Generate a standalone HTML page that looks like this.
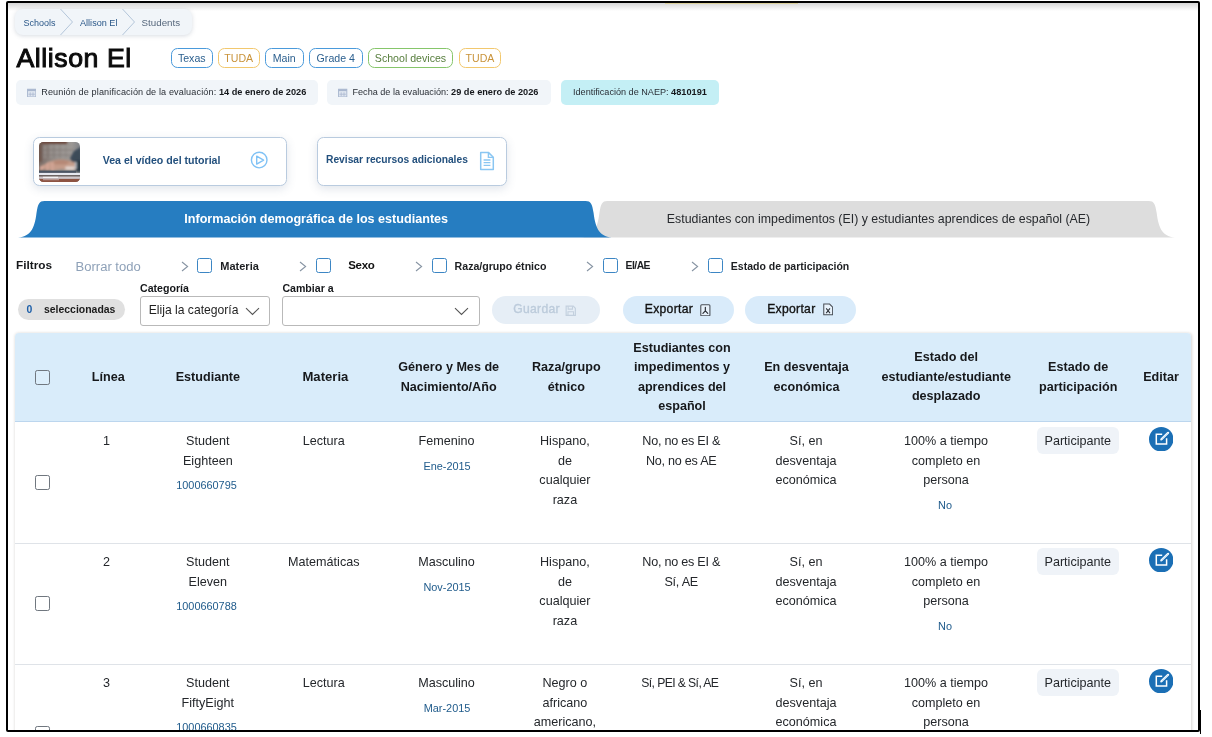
<!DOCTYPE html>
<html lang="es">
<head>
<meta charset="utf-8">
<title>Allison El - Students</title>
<style>
*{box-sizing:border-box;margin:0;padding:0}
html,body{width:1212px;height:737px;overflow:hidden;background:#fff}
body{font-family:"Liberation Sans",sans-serif;color:#212529;position:relative}
.abs{position:absolute}
.t{position:absolute;white-space:nowrap;line-height:1}
/* outer frame */
#frame{position:absolute;left:6px;top:1px;width:1194px;height:731px;border:2px solid #000;border-radius:2px;overflow:hidden;background:#fff}
#topshade{position:absolute;left:0;top:0;width:100%;height:7.5px;background:linear-gradient(#d6d6d6,#fff)}
#stage{position:absolute;left:-8px;top:-3px;width:1212px;height:737px}
/* breadcrumb */
#crumb{left:15px;top:9px;width:177px;height:26px;background:#f1f5f9;border-radius:8px;box-shadow:0 1px 4px rgba(100,116,139,.25)}
.crumbtx{font-size:9.3px;color:#2a5788;top:18.5px}
/* title */
#title{left:16.5px;top:44.8px;font-size:26.7px;font-weight:normal;color:#0b0b0b;-webkit-text-stroke:1px #0b0b0b;letter-spacing:0.55px}
.tag{position:absolute;top:47.8px;height:20.5px;border:1.4px solid #4a9adb;border-radius:6.5px;font-size:10.6px;line-height:19.6px;text-align:center;color:#2b5f8e;background:#fff;white-space:nowrap}
.tag.y{border-color:#f2c86e;color:#c9933a}
.tag.g{border-color:#86c66a;color:#567d3c}
.info{position:absolute;top:80.4px;height:24.4px;background:#f1f5f9;border-radius:5px;font-size:9.1px;line-height:24.6px;color:#2a2f36;white-space:nowrap}
.info b{font-weight:bold;color:#15181c;font-size:9.2px}
/* cards */
.card{position:absolute;top:137px;height:49px;border:1px solid #b9cbdf;border-radius:6.5px;background:#fff;box-shadow:0 3px 10px rgba(71,96,130,.16)}
.cardtx{font-size:10.75px;font-weight:bold;color:#23507d}
/* filters */
.fl{font-size:11px;font-weight:bold;color:#1d1f22}
.cb{position:absolute;width:15px;height:15px;border:1.5px solid #3c86c4;border-radius:2.5px;background:#fff;top:258px}
.chev{position:absolute}
.lbl{font-size:10.6px;font-weight:bold;color:#15171a}
.sel{position:absolute;top:296px;height:29.5px;border:1px solid #b9b9b9;border-radius:3px;background:#fff}
.pillbtn{position:absolute;top:296px;height:28px;border-radius:14px;background:#d9ebfa}
/* table */
#thead{left:15.3px;top:333px;width:1175.4px;height:89px;background:#d9ecfa;border-radius:4px 4px 0 0;border-bottom:1px solid #bcd6ee}
.th{position:absolute;font-size:12.6px;font-weight:bold;color:#16181b;text-align:center;line-height:19.5px;white-space:nowrap;transform:translateX(-50%)}
.td{position:absolute;font-size:12.6px;color:#24272b;text-align:center;line-height:19.7px;white-space:nowrap;transform:translateX(-50%)}
.sm{position:absolute;font-size:10.9px;color:#215c8c;white-space:nowrap;transform:translateX(-50%);line-height:1}
.rowline{position:absolute;left:15.3px;width:1175.4px;height:1px;background:#dfe3e8}
.gcb{position:absolute;left:35px;width:15px;height:15px;border:1.15px solid #70777f;border-radius:2.3px;background:#fff}
.badge{position:absolute;left:1036.5px;width:82.5px;height:27px;border-radius:6px;background:#eff3f8;font-size:12.6px;color:#24272b;text-align:center;line-height:28.2px}
.edit{position:absolute;left:1148.5px;width:24.5px;height:24.5px}
</style>
</head>
<body>
<div id="frame"><div id="topshade"></div><div id="stage">

<div class="abs" style="left:665px;top:3px;width:133px;height:1.2px;background:#d9cc8a;opacity:.8"></div>
<!-- breadcrumb -->
<div class="abs" id="crumb"></div>
<span class="t crumbtx" style="left:23.5px;font-size:9px">Schools</span>
<svg class="abs" style="left:58px;top:9px" width="18" height="26" viewBox="0 0 18 26"><path d="M2.5 0 L14.5 13 L2.5 26" fill="none" stroke="#b4c6da" stroke-width="1"/></svg>
<span class="t crumbtx" style="left:80px;font-size:9.1px">Allison El</span>
<svg class="abs" style="left:120px;top:9px" width="18" height="26" viewBox="0 0 18 26"><path d="M2.5 0 L14.5 13 L2.5 26" fill="none" stroke="#b4c6da" stroke-width="1"/></svg>
<span class="t crumbtx" style="left:141.6px;top:17.7px;font-size:9.75px;color:#56677c">Students</span>

<!-- title + tags -->
<span class="t" id="title">Allison El</span>
<div class="tag" style="left:170.5px;width:42.5px">Texas</div>
<div class="tag y" style="left:217.5px;width:42.5px">TUDA</div>
<div class="tag" style="left:265px;width:38.5px">Main</div>
<div class="tag" style="left:309px;width:53.5px">Grade 4</div>
<div class="tag g" style="left:368px;width:85px">School devices</div>
<div class="tag y" style="left:459px;width:42px">TUDA</div>

<!-- info bars -->
<div class="info" style="left:15.5px;width:302px;padding-left:25.7px"><span style="letter-spacing:.125px">Reunión de planificación de la evaluación: </span><b>14 de enero de 2026</b></div>
<div class="info" style="left:327px;width:223.5px;padding-left:25.5px">Fecha de la evaluación: <b>29 de enero de 2026</b></div>
<div class="info" style="left:561px;width:158px;padding-left:12px;background:#c4eff5">Identificación de NAEP: <b>4810191</b></div>

<!-- calendar icons -->
<svg class="abs" style="left:26.8px;top:87.5px" width="9.4" height="9.6" viewBox="0 0 10 10"><rect x="0.6" y="1.2" width="8.8" height="8.2" fill="#dfe6f0" stroke="#a9b7cf" stroke-width="1"/><rect x="0.6" y="1.2" width="8.8" height="2" fill="#a9b7cf"/><path d="M3.4 4.5V8.5M6.4 4.5V8.5M1.5 6.5H8.5" stroke="#a9b7cf" stroke-width=".8"/></svg>
<svg class="abs" style="left:338.3px;top:87.5px" width="9.4" height="9.6" viewBox="0 0 10 10"><rect x="0.6" y="1.2" width="8.8" height="8.2" fill="#dfe6f0" stroke="#a9b7cf" stroke-width="1"/><rect x="0.6" y="1.2" width="8.8" height="2" fill="#a9b7cf"/><path d="M3.4 4.5V8.5M6.4 4.5V8.5M1.5 6.5H8.5" stroke="#a9b7cf" stroke-width=".8"/></svg>

<!-- cards -->
<div class="card" style="left:33px;width:254.3px"></div>
<svg class="abs" style="left:39px;top:142px" width="41" height="40" viewBox="0 0 41 40">
 <defs>
  <clipPath id="tc"><rect width="41" height="40" rx="4.5"/></clipPath>
  <linearGradient id="tg" x1="0" y1="0" x2="1" y2="0"><stop offset="0" stop-color="#7b6c66"/><stop offset=".35" stop-color="#8f8985"/><stop offset=".8" stop-color="#9b9794"/><stop offset="1" stop-color="#7f8287"/></linearGradient>
  <filter id="bl" x="-20%" y="-20%" width="140%" height="140%"><feGaussianBlur stdDeviation="1"/></filter>
  <filter id="bl2" x="-20%" y="-20%" width="140%" height="140%"><feGaussianBlur stdDeviation=".45"/></filter>
 </defs>
 <g clip-path="url(#tc)">
  <rect width="41" height="40" fill="url(#tg)"/>
  <g filter="url(#bl)">
   <rect x="-2" y="-3" width="30" height="5" fill="#6a463c"/>
   <rect x="-2" y="0" width="5" height="20" fill="#6f5850"/>
   <path d="M6 4V16M12 3V16M18 3V16M24 4V16M30 5V14" stroke="#a6a19e" stroke-width="2.2" opacity=".55"/>
   <path d="M2 8H34M2 13H32" stroke="#77706c" stroke-width="1.4" opacity=".5"/>
   <path d="M42 5 L35 9 L31 16 L33 21 L37 22 L37 30 L43 30 Z" fill="#3c4b59"/>
   <rect x="36.5" y="18.5" width="5.5" height="10.5" fill="#2b3743"/>
   <rect x="36" y="20" width="1.6" height="7" fill="#b9c2cb"/>
   <path d="M0.5 25 C3 23 6 22.5 8 21 C10 19.5 14 18.4 19 17.6 C25 16.8 31 18.5 36 20.5 L36 27.5 C32 28.6 27 28.2 23 27 L15 28.6 L13 28.8 L10 27.5 L8 28.6 L5 27 L1 28.6 Z" fill="#c59c8a"/>
   <path d="M7 21.5 L9.5 20 L10 28 L7.5 28.5 Z M12 21 L14.5 20.5 L14.5 29 L12.5 29 Z M1 24.5 L4.5 23.5 L5 27.5 L1 28.5 Z" fill="#d3a596"/>
   <path d="M14 19.5 C19 17.6 26 17.6 31 19.6 L27 22.5 L16 22.5 Z" fill="#b58876"/>
   <rect x="26.5" y="24.5" width="9" height="3.2" fill="#e3d6d0"/>
  </g>
  <g filter="url(#bl2)">
   <rect x="-1" y="28.6" width="38" height="2.4" fill="#4b5563"/>
   <rect x="-1" y="30.9" width="43" height="2.5" fill="#e6e8ef"/>
   <rect x="-1" y="33.3" width="43" height="1.3" fill="#514442"/>
   <rect x="-1" y="34.5" width="43" height="2.4" fill="#cfc8cc"/>
   <rect x="4" y="34.8" width="15" height="1.1" fill="#f3f3f6"/>
   <rect x="-1" y="36.9" width="43" height="4" fill="#8d5243"/>
   <rect x="4" y="37.2" width="16" height="1" fill="#bfa5a0"/>
  </g>
 </g>
</svg>
<span class="t cardtx" id="c1t" style="left:102.7px;top:155px;font-size:10.6px">Vea el vídeo del tutorial</span>
<svg class="abs" style="left:250px;top:151.1px" width="18.4" height="18.4" viewBox="0 0 18.4 18.4"><circle cx="9.2" cy="9.1" r="7.8" fill="none" stroke="#80c2f5" stroke-width="1.4"/><path d="M6.7 5.1 L13.6 9.1 L6.7 13.1 Z" fill="none" stroke="#80c2f5" stroke-width="1.4" stroke-linejoin="round"/></svg>
<div class="card" style="left:317.2px;width:190px"></div>
<span class="t cardtx" id="c2t" style="left:326px;top:155px;font-size:10.25px">Revisar recursos adicionales</span>
<svg class="abs" style="left:479px;top:150.5px" width="16" height="20" viewBox="0 0 16 20"><path d="M1.7 1.6 H9.6 L14.3 6.3 V18.5 H1.7 Z" fill="#fff" stroke="#8ac6f2" stroke-width="1.5" stroke-linejoin="round"/><path d="M9.4 1.8 V6.4 H14.2" fill="none" stroke="#8ac6f2" stroke-width="1.4"/><path d="M4.6 9 H11.4 M4.6 11.7 H11.4 M4.6 14.4 H11.4" stroke="#8ac6f2" stroke-width="1.3"/></svg>

<!-- tabs -->
<svg class="abs" style="left:0;top:195px" width="1212" height="48" viewBox="0 195 1212 48">
 <path d="M578.4 237.6 C593.4 237.6 597.4 229 599.4 213 C600.9 204 601.9 201 607.4 201 H1148.7 C1154.2 201 1155.2 204 1156.7 213 C1158.7 229 1162.7 237.6 1177.7 237.6 Z" fill="#dddddd"/>
 <path d="M15.5 237.6 C30.5 237.6 34.5 229 36.5 213 C38 204 39 201 44.5 201 H585.6 C591.1 201 592.1 204 593.6 213 C595.6 229 599.6 237.6 614.6 237.6 Z" fill="#267dc1"/>
</svg>
<span class="t" id="tab1" style="left:316.2px;top:212.5px;font-size:12.6px;font-weight:bold;color:#fff;transform:translateX(-50%)">Información demográfica de los estudiantes</span>
<span class="t" id="tab2" style="left:878.5px;top:212.5px;font-size:12.35px;color:#26292d;transform:translateX(-50%)">Estudiantes con impedimentos (EI) y estudiantes aprendices de español (AE)</span>

<!-- filters -->
<span class="t" id="filtros" style="left:16px;top:260px;font-size:11.8px;font-weight:bold;color:#15171a">Filtros</span>
<span class="t" id="borrar" style="left:75.5px;top:259.5px;font-size:13.05px;color:#8ea1b8">Borrar todo</span>
<svg class="chev" style="left:180.5px;top:260.5px" width="8" height="11" viewBox="0 0 8 11"><path d="M1 1 L6.6 5.5 L1 10" fill="none" stroke="#8794a3" stroke-width="1.1"/></svg>
<div class="cb" style="left:197.3px"></div>
<span class="t fl" id="f1" style="left:220.3px;top:260.5px">Materia</span>
<svg class="chev" style="left:299px;top:260.5px" width="8" height="11" viewBox="0 0 8 11"><path d="M1 1 L6.6 5.5 L1 10" fill="none" stroke="#8794a3" stroke-width="1.1"/></svg>
<div class="cb" style="left:315.8px"></div>
<span class="t" id="f2" style="left:348.2px;top:260px;font-size:11.5px;font-weight:bold;color:#111;letter-spacing:-.3px">Sexo</span>
<svg class="chev" style="left:415.3px;top:260.5px" width="8" height="11" viewBox="0 0 8 11"><path d="M1 1 L6.6 5.5 L1 10" fill="none" stroke="#8794a3" stroke-width="1.1"/></svg>
<div class="cb" style="left:432.2px"></div>
<span class="t fl" id="f3" style="left:454.6px;top:260.5px;font-size:10.6px">Raza/grupo étnico</span>
<svg class="chev" style="left:586.2px;top:260.5px" width="8" height="11" viewBox="0 0 8 11"><path d="M1 1 L6.6 5.5 L1 10" fill="none" stroke="#8794a3" stroke-width="1.1"/></svg>
<div class="cb" style="left:603.3px"></div>
<span class="t fl" id="f4" style="left:625.6px;top:260.5px;font-size:10.4px;letter-spacing:-.55px">EI/AE</span>
<svg class="chev" style="left:691.3px;top:260.5px" width="8" height="11" viewBox="0 0 8 11"><path d="M1 1 L6.6 5.5 L1 10" fill="none" stroke="#8794a3" stroke-width="1.1"/></svg>
<div class="cb" style="left:707.7px"></div>
<span class="t fl" id="f5" style="left:730.8px;top:260.5px;font-size:10.5px">Estado de participación</span>

<span class="t lbl" id="lcat" style="left:140px;top:283px">Categoría</span>
<span class="t lbl" id="lcam" style="left:282.4px;top:283px">Cambiar a</span>

<div class="abs" style="left:18px;top:299px;width:106.5px;height:20.5px;border-radius:10.5px;background:#e0e0e0"></div>
<span class="t" id="selc0" style="left:26.5px;top:304.7px;font-size:10.45px;font-weight:bold;color:#1d5fa8">0</span>
<span class="t" id="selc" style="left:44px;top:304.7px;font-size:10.45px;font-weight:bold;color:#1b1b1b">seleccionadas</span>

<div class="sel" style="left:140px;width:130px"></div>
<span class="t" id="elija" style="left:148.7px;top:304px;font-size:12.15px;color:#1f1f1f">Elija la categoría</span>
<svg class="abs" style="left:244.5px;top:306.5px" width="15" height="9" viewBox="0 0 15 9"><path d="M1 1.2 L7.5 7.4 L14 1.2" fill="none" stroke="#555" stroke-width="1.1"/></svg>
<div class="sel" style="left:282.4px;width:197.6px"></div>
<svg class="abs" style="left:454.4px;top:306.5px" width="15" height="9" viewBox="0 0 15 9"><path d="M1 1.2 L7.5 7.4 L14 1.2" fill="none" stroke="#555" stroke-width="1.1"/></svg>

<div class="pillbtn" style="left:491.5px;width:108.5px;background:#e6eef6"></div>
<span class="t" id="guardar" style="left:513.2px;top:303px;font-size:12.15px;color:#bccbdb;-webkit-text-stroke:.35px #bccbdb;letter-spacing:.3px">Guardar</span>
<svg class="abs" style="left:565.2px;top:304.5px" width="11.5" height="11.5" viewBox="0 0 12 12"><path d="M1.2 1.2 H8.6 L10.8 3.4 V10.8 H1.2 Z" fill="none" stroke="#c3d0de" stroke-width="1.2"/><path d="M3.3 1.4 V4.3 H7.8 V1.4 M3.1 10.6 V7 H8.9 V10.6" fill="none" stroke="#c3d0de" stroke-width="1.1"/></svg>

<div class="pillbtn" style="left:623px;width:111.2px"></div>
<span class="t" id="exp1" style="left:644.8px;top:303px;font-size:12.15px;color:#121212;-webkit-text-stroke:.35px #121212;letter-spacing:.3px">Exportar</span>
<svg class="abs" style="left:700px;top:303.5px" width="10.7" height="12.7" viewBox="0 0 11 13"><rect x=".8" y=".8" width="9.4" height="11.4" rx="1" fill="#e8f2fb" stroke="#4a4f57" stroke-width="1.1"/><path d="M5.5 3.4 V7 M5.5 7 L3 9.6 M5.5 7 L8 9.6" stroke="#2b2f36" stroke-width="1.2" fill="none" stroke-linecap="round"/></svg>
<div class="pillbtn" style="left:745.3px;width:111px"></div>
<span class="t" id="exp2" style="left:767.2px;top:303px;font-size:12.15px;color:#121212;-webkit-text-stroke:.35px #121212;letter-spacing:.3px">Exportar</span>
<svg class="abs" style="left:822.7px;top:303.4px" width="10.4" height="12.8" viewBox="0 0 11 13"><path d="M.8 .8 H7 L10.2 4 V12.2 H.8 Z" fill="#e8f2fb" stroke="#4a4f57" stroke-width="1.1"/><path d="M3.4 5.4 L7.4 10.4 M7.4 5.4 L3.4 10.4" stroke="#2b2f36" stroke-width="1.1"/></svg>

<!-- table -->
<div class="abs" style="left:15.3px;top:333px;width:1175.4px;height:420px;border-radius:4px;background:#fff;box-shadow:0.6px 0.4px 3px rgba(60,50,40,.2)"></div>
<div class="abs" id="thead"></div>
<div class="gcb" style="top:369.8px;background:#dceefb"></div>
<div class="th" style="left:108.3px;top:367.8px">Línea</div>
<div class="th" style="left:207.9px;top:367.8px">Estudiante</div>
<div class="th" style="left:325.4px;top:367.2px;font-size:13.1px">Materia</div>
<div class="th" style="left:448.7px;top:358.05px">Género y Mes de<br>Nacimiento/Año</div>
<div class="th" style="left:566.3px;top:358.05px">Raza/grupo<br>étnico</div>
<div class="th" style="left:682px;top:338.55px">Estudiantes con<br>impedimentos y<br>aprendices del<br>español</div>
<div class="th" style="left:806.5px;top:358.05px">En desventaja<br>económica</div>
<div class="th" style="left:946.2px;top:348.3px">Estado del<br>estudiante/estudiante<br>desplazado</div>
<div class="th" style="left:1078.2px;top:358.05px">Estado de<br>participación</div>
<div class="th" style="left:1161px;top:367.8px">Editar</div>
<div class="gcb" style="top:474.5px"></div>
<div class="td" style="left:106.5px;top:431.8px">1</div>
<div class="td" style="left:207.8px;top:431.8px">Student<br>Eighteen</div>
<div class="sm" style="left:206.5px;top:480.3px">1000660795</div>
<div class="td" style="left:323.8px;top:431.8px">Lectura</div>
<div class="td" style="left:446.5px;top:431.8px">Femenino</div>
<div class="sm" style="left:447px;top:461px">Ene-2015</div>
<div class="td" style="left:564.9px;top:431.8px">Hispano,<br>de<br>cualquier<br>raza</div>
<div class="td" style="left:681.2px;letter-spacing:-.25px;top:431.8px">No, no es EI &amp;<br>No, no es AE</div>
<div class="td" style="left:806px;top:431.8px">Sí, en<br>desventaja<br>económica</div>
<div class="td" style="left:946px;top:431.8px">100% a tiempo<br>completo en<br>persona</div>
<div class="sm" style="left:945px;top:500px">No</div>
<div class="badge" style="top:426.7px">Participante</div>
<svg class="edit" style="top:426.5px" viewBox="0 0 24.5 24.5"><circle cx="12.25" cy="12.25" r="12.25" fill="#1b6fb5"/><path d="M13.2 7.2 H7.3 V17 H17.6 V11.3" fill="none" stroke="#fff" stroke-width="1.5"/><path d="M12.4 12.3 L19.1 5.8" stroke="#fff" stroke-width="2.2" stroke-linecap="round"/><path d="M11.4 13.5 L12.3 11.3 L13.5 12.5 Z" fill="#fff"/><path d="M12.9 11.9 L18.9 6" stroke="#a9d4f3" stroke-width=".7" stroke-linecap="round"/></svg>
<div class="rowline" style="top:542.5px"></div>
<div class="gcb" style="top:595.5px"></div>
<div class="td" style="left:106.5px;top:552.8px">2</div>
<div class="td" style="left:207.8px;top:552.8px">Student<br>Eleven</div>
<div class="sm" style="left:206.5px;top:601.3px">1000660788</div>
<div class="td" style="left:323.8px;top:552.8px">Matemáticas</div>
<div class="td" style="left:446.5px;top:552.8px">Masculino</div>
<div class="sm" style="left:447px;top:582px">Nov-2015</div>
<div class="td" style="left:564.9px;top:552.8px">Hispano,<br>de<br>cualquier<br>raza</div>
<div class="td" style="left:681.2px;letter-spacing:-.25px;top:552.8px">No, no es EI &amp;<br>Sí, AE</div>
<div class="td" style="left:806px;top:552.8px">Sí, en<br>desventaja<br>económica</div>
<div class="td" style="left:946px;top:552.8px">100% a tiempo<br>completo en<br>persona</div>
<div class="sm" style="left:945px;top:621px">No</div>
<div class="badge" style="top:547.7px">Participante</div>
<svg class="edit" style="top:547.5px" viewBox="0 0 24.5 24.5"><circle cx="12.25" cy="12.25" r="12.25" fill="#1b6fb5"/><path d="M13.2 7.2 H7.3 V17 H17.6 V11.3" fill="none" stroke="#fff" stroke-width="1.5"/><path d="M12.4 12.3 L19.1 5.8" stroke="#fff" stroke-width="2.2" stroke-linecap="round"/><path d="M11.4 13.5 L12.3 11.3 L13.5 12.5 Z" fill="#fff"/><path d="M12.9 11.9 L18.9 6" stroke="#a9d4f3" stroke-width=".7" stroke-linecap="round"/></svg>
<div class="rowline" style="top:663.5px"></div>
<div class="gcb" style="top:726px"></div>
<div class="td" style="left:106.5px;top:673.8px">3</div>
<div class="td" style="left:207.8px;top:673.8px">Student<br>FiftyEight</div>
<div class="sm" style="left:206.5px;top:722.3px">1000660835</div>
<div class="td" style="left:323.8px;top:673.8px">Lectura</div>
<div class="td" style="left:446.5px;top:673.8px">Masculino</div>
<div class="sm" style="left:447px;top:703px">Mar-2015</div>
<div class="td" style="left:564.9px;top:673.8px">Negro o<br>africano<br>americano,</div>
<div class="td" style="left:679.8px;letter-spacing:-.6px;font-size:12.2px;top:673.8px">Sí, PEI &amp; Sí, AE</div>
<div class="td" style="left:806px;top:673.8px">Sí, en<br>desventaja<br>económica</div>
<div class="td" style="left:946px;top:673.8px">100% a tiempo<br>completo en<br>persona</div>
<div class="sm" style="left:945px;top:742px">No</div>
<div class="badge" style="top:668.7px">Participante</div>
<svg class="edit" style="top:668.5px" viewBox="0 0 24.5 24.5"><circle cx="12.25" cy="12.25" r="12.25" fill="#1b6fb5"/><path d="M13.2 7.2 H7.3 V17 H17.6 V11.3" fill="none" stroke="#fff" stroke-width="1.5"/><path d="M12.4 12.3 L19.1 5.8" stroke="#fff" stroke-width="2.2" stroke-linecap="round"/><path d="M11.4 13.5 L12.3 11.3 L13.5 12.5 Z" fill="#fff"/><path d="M12.9 11.9 L18.9 6" stroke="#a9d4f3" stroke-width=".7" stroke-linecap="round"/></svg>
<!-- bottom-right artifact -->

</div></div>
<div class="abs" style="left:1199.6px;top:710px;width:1.3px;height:24px;background:#000"></div>
</body>
</html>
